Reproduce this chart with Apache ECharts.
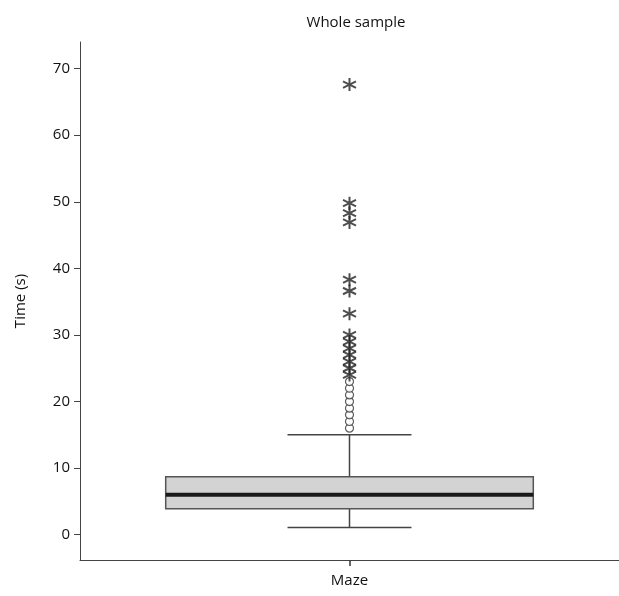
<!DOCTYPE html>
<html>
<head>
<meta charset="utf-8">
<script src="https://cdn.jsdelivr.net/npm/echarts@6/dist/echarts.min.js"></script>
<style>html,body{margin:0;padding:0;background:#fff}#c{width:619px;height:596px}</style>
</head>
<body>
<div id="c"></div>
<script>
var categories = ['Maze'];
// [whiskerLow, Q1, median, Q3, whiskerHigh]
var boxStats = [[1.1, 3.9, 6.0, 8.7, 15.0]];
var mildOutliers = [16.0, 17.0, 18.0, 19.0, 20.0, 21.0, 22.0, 23.0];
var extremeOutliers = [24.0, 25.0, 26.0, 27.0, 28.0, 29.0, 30.0, 33.2, 36.6, 38.3, 46.9, 48.3, 49.8, 67.6];
var yTicks = [0, 10, 20, 30, 40, 50, 60, 70];

var FONT = '"Open Sans", "Noto Sans", sans-serif';
var chart = echarts.init(document.getElementById('c'));

var boxData = boxStats.map(function (s, i) { return [i].concat(s); });

chart.setOption({
  animation: false,
  title: {
    text: 'Whole sample', left: 351, top: 10, textAlign: 'center',
    textStyle: { fontFamily: FONT, fontSize: 15, fontWeight: 'normal', color: '#111' }
  },
  grid: { left: 80, right: 0, top: 42, bottom: 36 },
  xAxis: {
    type: 'category', data: categories, boundaryGap: true,
    axisLine: { onZero: false, lineStyle: { color: '#444', width: 1 } },
    axisTick: { show: true, alignWithLabel: true, length: 6, lineStyle: { color: '#333', width: 1.5 } },
    axisLabel: { fontFamily: FONT, fontSize: 15, color: '#111', margin: 13 },
    splitLine: { show: false }
  },
  yAxis: {
    type: 'value', min: -3.8, max: 74,
    name: 'Time (s)', nameLocation: 'middle', nameGap: 52, nameRotate: 90,
    nameTextStyle: { fontFamily: FONT, fontSize: 15, color: '#111' },
    axisLine: { show: true, lineStyle: { color: '#444', width: 1 } },
    axisTick: { show: true, length: 6, customValues: yTicks, lineStyle: { color: '#444' } },
    axisLabel: { fontFamily: FONT, fontSize: 15, color: '#111', margin: 10, customValues: yTicks },
    splitLine: { show: false }
  },
  series: [
    {
      type: 'custom',
      data: boxData,
      renderItem: function (params, api) {
        var x = api.value(0);
        var band = api.size([1, 0])[0];
        var bw = band * 0.682, cw = band * 0.23;
        var cx = api.coord([x, 0])[0];
        var yLo = api.coord([x, api.value(1)])[1];
        var yQ1 = api.coord([x, api.value(2)])[1];
        var yMed = api.coord([x, api.value(3)])[1];
        var yQ3 = api.coord([x, api.value(4)])[1];
        var yHi = api.coord([x, api.value(5)])[1];
        var ls = { stroke: '#444', lineWidth: 1.5 };
        return {
          type: 'group',
          children: [
            { type: 'line', shape: { x1: cx, y1: yHi, x2: cx, y2: yQ3 }, style: ls },
            { type: 'line', shape: { x1: cx, y1: yLo, x2: cx, y2: yQ1 }, style: ls },
            { type: 'line', shape: { x1: cx - cw / 2, y1: yHi, x2: cx + cw / 2, y2: yHi }, style: ls },
            { type: 'line', shape: { x1: cx - cw / 2, y1: yLo, x2: cx + cw / 2, y2: yLo }, style: ls },
            { type: 'rect', shape: { x: cx - bw / 2, y: yQ3, width: bw, height: yQ1 - yQ3 },
              style: { fill: '#d3d3d3', stroke: '#555', lineWidth: 1.5 } },
            { type: 'line', shape: { x1: cx - bw / 2, y1: yMed, x2: cx + bw / 2, y2: yMed },
              style: { stroke: '#1a1a1a', lineWidth: 4 } }
          ]
        };
      }
    },
    {
      type: 'scatter',
      data: mildOutliers.map(function (v) { return [0, v]; }),
      symbol: 'circle', symbolSize: 8,
      itemStyle: { color: '#fff', borderColor: '#333', borderWidth: 1.2 },
      z: 5
    },
    {
      type: 'scatter',
      data: extremeOutliers.map(function (v) { return [0, v]; }),
      symbol: 'path://M0,-10L0,10M-8.66,-5L8.66,5M-8.66,5L8.66,-5',
      symbolSize: 13,
      itemStyle: { color: 'none', borderColor: '#222', borderWidth: 2 },
      z: 6
    }
  ]
});
</script>
</body>
</html>
